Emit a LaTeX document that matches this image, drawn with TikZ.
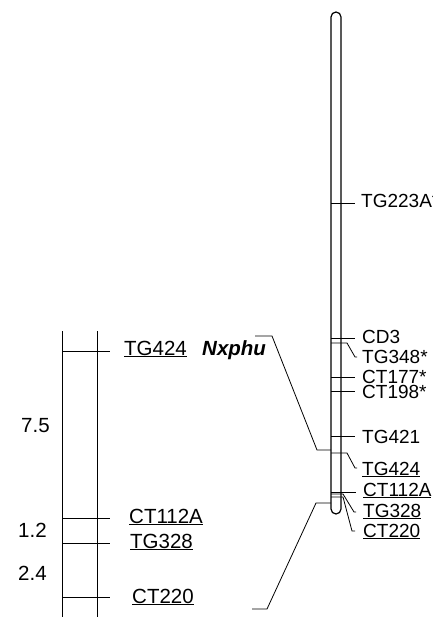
\documentclass[tikz,border=0pt]{standalone}
\usepackage{fontspec}
\setmainfont{Liberation Sans}
\begin{document}
\begin{tikzpicture}[x=1pt,y=-1pt,
  lblL/.style={font=\fontsize{20.5}{21}\selectfont, anchor=base west, inner sep=0pt},
  lblR/.style={font=\fontsize{19}{20}\selectfont, anchor=base west, inner sep=0pt},
  tick/.style={line width=0.8pt},
  chrom/.style={line width=1.2pt, rounded corners=5pt}]
\useasboundingbox (0,0) rectangle (432,617);
% chromosome
\draw[chrom] (331,514) -- (331,12) -- (341,12) -- (341,514) -- cycle;
% right labels
\node[lblR] (tg223) at (361,208) {TG223A*};
\node[lblR] (cd3) at (362,343) {CD3};
\node[lblR] (tg348) at (362,363) {TG348*};
\node[lblR] (ct177) at (362,383) {CT177*};
\node[lblR] (ct198) at (362,398) {CT198*};
\node[lblR] (tg421) at (362,443) {TG421};
\node[lblR] (tg424r) at (362,475) {\underline{TG424}};
\node[lblR] (ct112r) at (363,496) {\underline{CT112A}};
\node[lblR] (tg328r) at (363,517) {\underline{TG328}};
\node[lblR] (ct220r) at (363,537) {\underline{CT220}};
% chromosome ticks
\draw[tick] (331,203) -- (355,203);
\draw[tick] (331,338) -- (355,338);
\draw[tick] (331,343) -- (347,343) -- (355,357) -- (357,357);
\draw[tick] (331,377) -- (355,377);
\draw[tick] (331,391) -- (355,391);
\draw[tick] (331,436) -- (355,436);
\draw[tick] (331,453) -- (347,453) -- (355,468) -- (357,468);
\draw[tick] (331,492) -- (356,492);
\draw[tick] (331,494) -- (343,494) -- (354,512) -- (356,512);
\draw[tick] (331,497) -- (343,497) -- (352,531) -- (355,531);
% linkage map
\draw[tick] (62,331) -- (62,617);
\draw[tick] (97,331) -- (97,617);
\draw[tick] (62,351) -- (110,351);
\draw[tick] (62,518) -- (110,518);
\draw[tick] (62,543) -- (110,543);
\draw[tick] (62,597) -- (110,597);
\node[lblL] (tg424l) at (124,355) {\underline{TG424}};
\node[lblL] (nx) at (202,355) {\textbf{\textit{Nxphu}}};
\node[lblL] (ct112l) at (129,523) {\underline{CT112A}};
\node[lblL] (tg328l) at (130,548) {\underline{TG328}};
\node[lblL] (ct220l) at (132,603) {\underline{CT220}};
\node[lblL] (d1) at (21,432) {7.5};
\node[lblL] (d2) at (18,537) {1.2};
\node[lblL] (d3) at (18,580) {2.4};
% connectors
\draw[tick] (255,336) -- (272,336) -- (317,450) -- (331,450);
\draw[tick] (331,503) -- (316,503) -- (267,609) -- (252,609);
\end{tikzpicture}
\end{document}
